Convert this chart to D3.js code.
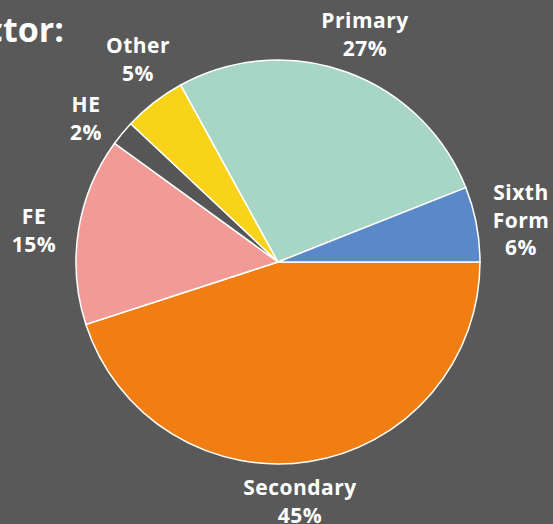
<!DOCTYPE html>
<html>
<head>
<meta charset="utf-8">
<script src="https://cdn.jsdelivr.net/npm/d3@7"></script>
<style>
  body { margin: 0; background: #595959; }
  text { font-family: "Open Sans", sans-serif; font-weight: 700; fill: #ffffff; }
</style>
</head>
<body>
<div id="wrapper"></div>
<script>
const sectors = ["Secondary", "FE", "HE", "Other", "Primary", "Sixth Form"];
const shares = [45, 15, 2, 5, 27, 6];
const sectorColors = ["#f07e12", "#f29a96", "#565656", "#f9d31a", "#a7d5c6", "#5b88c8"];

function drawPie() {
  const width = 553;
  const height = 524;
  const cx = 278;
  const cy = 262;
  const radius = 202;

  const svg = d3.select("#wrapper")
    .append("svg")
      .attr("width", width)
      .attr("height", height);

  svg.append("rect")
    .attr("width", width)
    .attr("height", height)
    .attr("fill", "#595959");

  // title is cut off by the left edge in the original
  svg.append("text")
    .attr("x", 64)
    .attr("y", 42)
    .attr("text-anchor", "end")
    .style("font-size", "34px")
    .text("By sector:");

  const data = sectors.map((name, i) => ({ name, value: shares[i], color: sectorColors[i] }));

  // Secondary starts at 3 o'clock and runs clockwise
  const pie = d3.pie()
    .value(d => d.value)
    .sort(null)
    .startAngle(Math.PI / 2)
    .endAngle(Math.PI / 2 + 2 * Math.PI);

  const arc = d3.arc().innerRadius(0).outerRadius(radius);

  const g = svg.append("g")
    .attr("transform", `translate(${cx}, ${cy})`);

  g.selectAll("path")
    .data(pie(data))
    .join("path")
      .attr("d", arc)
      .attr("fill", d => d.data.color)
      .attr("stroke", "#ffffff")
      .attr("stroke-width", 1.5);

  // label anchor (centre x, first baseline) relative to the pie centre
  const labelPos = {
    "Secondary": [22, 233],
    "FE": [-244, -38],
    "HE": [-192, -150],
    "Other": [-140, -209],
    "Primary": [87, -234],
    "Sixth Form": [243, -62],
  };
  const lineHeight = 27.5;

  const labels = g.selectAll(".label")
    .data(data)
    .join("text")
      .attr("class", "label")
      .attr("text-anchor", "middle")
      .style("font-size", "21px")
      .style("letter-spacing", "0.5px")
      .attr("transform", d => `translate(${labelPos[d.name]})`);

  labels.each(function(d) {
    const lines = d.name.split(" ").concat(`${d.value}%`);
    d3.select(this).selectAll("tspan")
      .data(lines)
      .join("tspan")
        .attr("x", 0)
        .attr("y", (l, i) => i * lineHeight)
        .text(l => l);
  });
}
drawPie();
</script>
</body>
</html>
